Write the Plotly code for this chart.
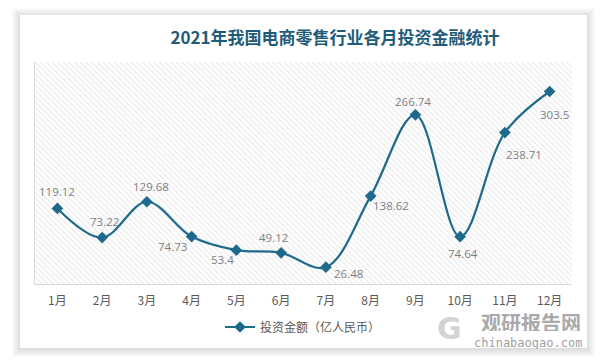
import plotly.graph_objects as go

# ---------------- data ----------------
months = ["1月", "2月", "3月", "4月", "5月", "6月", "7月", "8月", "9月", "10月", "11月", "12月"]
values = [119.12, 73.22, 129.68, 74.73, 53.4, 49.12, 26.48, 138.62, 266.74, 74.64, 238.71, 303.5]
series_name = "投资金额（亿人民币）"
title_text = "2021年我国电商零售行业各月投资金融统计"
y_max = 350

# label offsets in pixels (dx right, dy up)
label_dx = [0, 2, 4, -19, -14, -8, 23, 20, -2, 3, 19, 5]
label_dy = [17, 16, 15, -10, -9, 15, -6, -9, 13, -17, -22, -23]

# ---------------- layout geometry ----------------
W, H = 608, 363
ML, MR, MT, MB = 35, 36, 62, 79
PW, PH = W - ML - MR, H - MT - MB


def px_x(x):
    return (x - ML) / PW


def px_y(y):
    return (H - MB - y) / PH


LINE_COLOR = "#1D6A8C"

fig = go.Figure()

# hatched plot-area background
n = len(months)
fig.add_trace(go.Scatter(
    x=[-0.5, n - 0.5, n - 0.5, -0.5, -0.5],
    y=[0, 0, y_max, y_max, 0],
    mode="none", fill="toself", fillcolor="rgba(0,0,0,0)",
    fillpattern=dict(shape="\\", fgcolor="#d6d6d6", bgcolor="#ffffff", size=4, solidity=0.3),
    hoverinfo="skip", showlegend=False,
))

fig.add_trace(go.Scatter(
    x=list(range(n)), y=values, name=series_name,
    mode="lines+markers",
    line=dict(color=LINE_COLOR, width=2.2, shape="spline", smoothing=1.0),
    marker=dict(symbol="diamond", size=9, color=LINE_COLOR),
))

# data labels
for i, v in enumerate(values):
    fig.add_annotation(
        x=i, y=v, text=f"{v:g}", showarrow=False,
        xshift=label_dx[i], yshift=label_dy[i],
        font=dict(family="Open Sans, Noto Sans, sans-serif", size=11.5, color="#7f7f7f"),
    )

# card shadow and card
shapes = []
card = (20, 15, 587, 348)
for i in range(8, 0, -1):
    shapes.append(dict(
        type="rect", xref="paper", yref="paper", layer="below",
        x0=px_x(card[0] - i), x1=px_x(card[2] + i),
        y0=px_y(card[3] + i + 1), y1=px_y(card[1] - i + 1),
        fillcolor="rgba(0,0,0,0.017)", line=dict(width=0),
    ))
shapes.append(dict(
    type="rect", xref="paper", yref="paper", layer="below",
    x0=px_x(card[0]), x1=px_x(card[2]), y0=px_y(card[3]), y1=px_y(card[1]),
    fillcolor="#ffffff", line=dict(width=0),
))

# watermark
wm = dict(xref="paper", yref="paper", showarrow=False, xanchor="center", yanchor="middle")
fig.add_annotation(
    x=px_x(531), y=px_y(322), text="<b>观研报告网</b>", height=18,
    font=dict(family="Noto Sans CJK SC", size=20, color="#a9a9a9"), **wm,
)
fig.add_annotation(
    x=px_x(528), y=px_y(342), text="chinabaogao.com", height=13,
    font=dict(family="DejaVu Sans Mono, monospace", size=12, color="#a0a0a0"), **wm,
)
fig.add_annotation(
    x=px_x(449), y=px_y(328), text="<b>G</b>",
    font=dict(family="DejaVu Sans", size=30, color="#d3d3d3"), **wm,
)

fig.update_layout(
    width=W, height=H,
    margin=dict(l=ML, r=MR, t=MT, b=MB, pad=0),
    paper_bgcolor="#ffffff", plot_bgcolor="rgba(0,0,0,0)",
    shapes=shapes,
    title=dict(
        text=f"<b>{title_text}</b>", xref="paper", x=px_x(335), xanchor="center",
        yref="container", y=1 - 38 / H, yanchor="middle",
        font=dict(family="Noto Sans CJK SC", size=17, color="#1F5C7A"),
    ),
    xaxis=dict(
        range=[-0.5, n - 0.5], tickmode="array", tickvals=list(range(n)), ticktext=months,
        showgrid=False, zeroline=False, showline=True, linecolor="#d9d9d9", linewidth=1,
        ticks="", ticklabelstandoff=6,
        tickfont=dict(family="Noto Sans CJK SC", size=12, color="#595959"),
        fixedrange=True,
    ),
    yaxis=dict(
        range=[0, y_max], showgrid=False, zeroline=False, showticklabels=False,
        showline=True, linecolor="#d9d9d9", linewidth=1, ticks="", fixedrange=True,
    ),
    legend=dict(
        orientation="h", x=px_x(303), xanchor="center", y=px_y(327), yanchor="middle",
        font=dict(family="Noto Sans CJK SC", size=12, color="#595959"),
        bgcolor="rgba(0,0,0,0)",
    ),
    showlegend=True,
)

fig.write_html(
    "out.html",
    config={"displayModeBar": False},
    post_script="document.body.style.margin='0px';document.body.style.overflow='hidden';",
)
